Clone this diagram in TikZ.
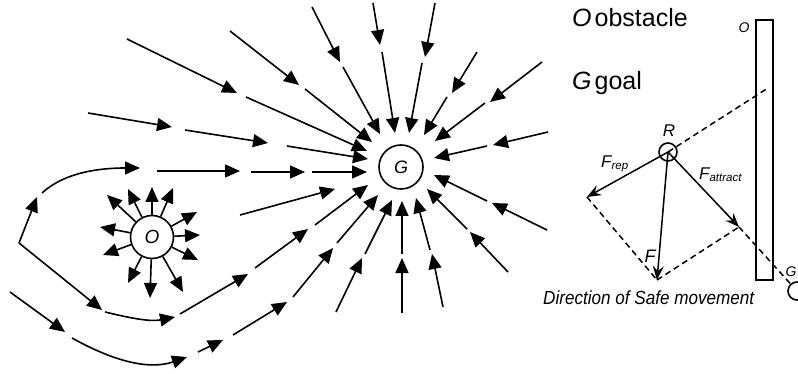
\documentclass[tikz,border=0pt]{standalone}
\usepackage{fontspec}
\setmainfont{Liberation Sans}
\usetikzlibrary{arrows.meta}
\begin{document}
\begin{tikzpicture}[x=1pt,y=-1pt,
  fa/.style={-{Triangle[length=15pt,width=13pt]},line width=1.6pt},
  fv/.style={-{Stealth[length=14pt,width=11pt,inset=5pt]},line width=1.5pt},
  dsh/.style={line width=1.5pt,dash pattern=on 6pt off 4pt},
  circ/.style={circle,draw,line width=1.6pt,inner sep=0pt},
  lbl/.style={inner sep=0pt,font=\fontsize{17}{17}\selectfont\itshape},
  big/.style={inner sep=0pt,anchor=base west,font=\fontsize{25}{25}\selectfont}]
\useasboundingbox (0,0) rectangle (798,374);
\clip (0,0) rectangle (798,374);
% goal and obstacle
\node[circ,minimum size=44pt,font=\fontsize{18}{18}\selectfont\itshape] (G) at (401,167) {G};
\node[circ,minimum size=43pt,font=\fontsize{19}{19}\selectfont\itshape] (O) at (152,237) {O};
% radial arrows into G
\foreach \ax/\ay/\bx/\by in {
  312/7/340/62, 343/67/380/134,
  373/3/380/45, 382/52/395/133,
  435/3/425/57, 422/63/409/133,
  477/52/452/93, 447/97/424/135,
  542/62/490/102, 485/103/435/141,
  548/132/493/145, 487/146/434/158,
  547/230/492/203, 487/201/434/175,
  508/272/470/232, 467/229/427/189,
  443/307/432/254, 430/250/416/198,
  402/313/402/258, 402/254/402/201,
  336/312/362/258, 365/254/392/200,
  230/31/299/85, 305/89/372/142,
  127/39/237/93, 246/97/367/151,
  88/113/172/127, 185/130/268/143, 287/146/368/159,
  157/171/240/171, 251/172/305/172, 312/172/367/172,
  240/215/335/189,
  180/314/248/274, 255/268/308/229, 315/225/368/185,
  198/352/223/340, 233/335/287/302, 293/297/333/248, 337/243/378/195}
  \draw[fa] (\ax,\ay) -- (\bx,\by);
% paths coming from the left
\coordinate (c) at (19,243);
\draw[fa] (c) -- (37,197);
\draw[fa] (42,193) .. controls (65,172) and (100,168) .. (140,168);
\draw[fa] (c) -- (102,310);
\draw[fa] (105,312) .. controls (130,318) and (150,322) .. (175,317);
\draw[fa] (10,292) -- (65,332);
\draw[fa] (72,338) .. controls (115,362) and (150,370) .. (187,357);
% arrows out of O
\foreach \a/\x/\y in {2/200/235, 29/197/212, 67/173/188, 90/152/187,
  117/128/189, 137/107/195, 169/100/227, 200/103/255, 242/128/283,
  268/150/298, 299/183/292, 333/198/260}
  \draw[fa] (O.\a) -- (\x,\y);
% legend
\node[big] (lo) at (572,27) {\textit{O}\hspace{3pt}obstacle};
\node[big] (lg) at (572,90) {\textit{G}\hspace{3pt}goal};
% right panel
\node[draw,line width=1.6pt,minimum width=17pt,minimum height=260pt,inner sep=0pt] (wall) at (764.5,150) {};
\node[lbl,font=\fontsize{14}{14}\selectfont\itshape] (wo) at (744,28) {O};
\node[circ,minimum size=18pt] (R) at (668,152) {};
\node[lbl] (rl) at (669,131) {R};
\coordinate (frep) at (587,197);
\coordinate (fatt) at (739,227);
\coordinate (ff) at (657,280);
\coordinate (wx) at (768,88);
\node[circ,minimum size=18pt] (g2) at (797,291) {};
\node[lbl,font=\fontsize{14}{14}\selectfont\itshape] (g2l) at (791,272) {G};
\draw[dsh] (R.center) -- (wx);
\draw[dsh] (frep) -- (ff);
\draw[dsh] (ff) -- (fatt);
\draw[dsh] (fatt) -- (g2);
\draw[fv] (R.center) -- (frep);
\draw[fv] (R.center) -- (fatt);
\draw[fv] (R.center) -- (ff);
\node[lbl,anchor=base west] (lrep) at (601,168) {F\raisebox{-1.5pt}{\fontsize{11.5}{11.5}\selectfont rep}};
\node[lbl,anchor=base west] (latt) at (699,180) {F\raisebox{-1.5pt}{\fontsize{11.5}{11.5}\selectfont attract}};
\node[lbl,font=\fontsize{18}{18}\selectfont\itshape] (lf) at (650,256) {F};
\node[inner sep=0pt,anchor=base west,font=\fontsize{19}{19}\selectfont\itshape] (dir) at (543,305) {\scalebox{0.9}[1]{Direction of Safe movement}};
\end{tikzpicture}
\end{document}
